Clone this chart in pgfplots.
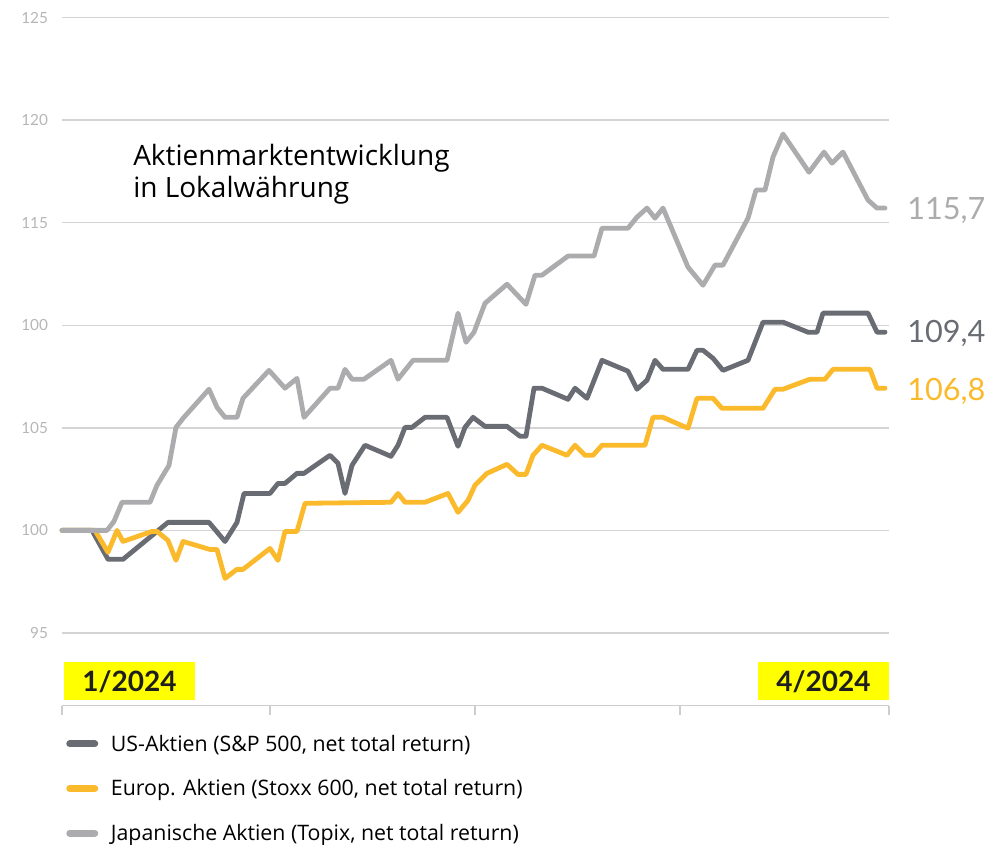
\documentclass[border=0pt]{standalone}
\usepackage{pgfplots}
\pgfplotsset{compat=1.18}
\usepackage{pgfplotstable}
\usepackage{fontspec}
\setmainfont{Lato}
\newfontfamily\textfnt{Open Sans}
\definecolor{usgray}{RGB}{105,108,115}
\definecolor{eugold}{RGB}{251,186,44}
\definecolor{jpgray}{RGB}{172,172,174}
\definecolor{gridgray}{RGB}{212,212,212}
\definecolor{axisgray}{RGB}{205,205,205}
\definecolor{ticklab}{RGB}{182,182,182}
\definecolor{datey}{RGB}{255,255,0}
\definecolor{datetext}{RGB}{30,30,30}

\pgfplotstableread{
x y
0 100.00
30 100.00
46 98.59
61 98.59
106 100.39
147 100.39
163 99.46
175 100.39
182 101.80
208 101.80
216 102.29
223 102.29
235 102.78
242 102.78
268 103.66
276 103.27
283 101.80
290 103.17
303 104.15
329 103.61
336 104.15
343 105.02
350 105.02
363 105.51
385 105.51
396 104.10
403 105.02
411 105.51
423 105.07
445 105.07
458 104.59
464 104.59
472 106.93
480 106.93
506 106.39
513 106.93
525 106.44
540 108.29
566 107.76
575 106.88
585 107.32
593 108.29
601 107.85
626 107.85
635 108.78
641 108.78
651 108.39
661 107.80
686 108.29
701 110.15
721 110.15
746 109.66
755 109.66
761 110.59
806 110.59
815 109.66
823 109.66
}\usdata

\pgfplotstableread{
x y
0 100.00
33 100.00
46 98.93
55 100.00
61 99.46
90 99.95
95 99.95
106 99.51
114 98.54
121 99.46
148 99.07
155 99.07
163 97.66
175 98.10
181 98.10
208 99.12
216 98.54
223 99.95
235 99.95
243 101.32
329 101.37
336 101.80
343 101.37
363 101.37
386 101.80
396 100.88
406 101.46
413 102.20
425 102.78
445 103.22
456 102.73
464 102.73
471 103.66
480 104.15
505 103.66
513 104.15
523 103.66
531 103.66
540 104.15
583 104.15
591 105.51
601 105.51
626 104.98
635 106.44
651 106.44
660 105.95
701 105.95
713 106.88
721 106.88
748 107.37
763 107.37
771 107.85
808 107.85
815 106.93
823 106.93
}\eudata

\pgfplotstableread{
x y
0 100.00
45 100.00
52 100.44
60 101.37
88 101.37
95 102.20
107 103.17
114 105.02
121 105.46
147 106.88
155 106.00
163 105.51
175 105.51
181 106.44
207 107.80
223 106.93
235 107.41
242 105.51
268 106.93
276 106.93
283 107.85
290 107.37
302 107.37
329 108.29
336 107.37
351 108.29
385 108.29
396 110.59
404 109.17
412 109.66
423 111.07
445 112.00
464 111.02
473 112.44
480 112.44
506 113.37
532 113.37
540 114.73
566 114.73
575 115.27
585 115.71
593 115.22
601 115.71
626 112.83
641 111.95
653 112.93
661 112.93
686 115.22
694 116.59
703 116.59
711 118.20
721 119.32
747 117.46
762 118.44
770 117.90
781 118.44
806 116.10
815 115.71
823 115.71
}\jpdata

\begin{document}
\begin{tikzpicture}
\begin{axis}[
  at={(0,0)}, anchor=south west,
  scale only axis, width=620.25pt, height=516pt,
  xmin=0, xmax=827, ymin=91.463, ymax=125,
  clip=false,
  axis x line*=bottom, axis y line*=left,
  y axis line style={draw=none},
  x axis line style={draw=axisgray, line width=1.1pt},
  xtick={0,208,413,618,827}, xticklabels={},
  xtick style={draw=axisgray, line width=1.1pt},
  tick align=outside, major tick length=7pt,
  ytick={95,100,105,110,115,120,125},
  yticklabels={95,100,105,100,115,120,125},
  ytick style={draw=none},
  yticklabel style={font=\fontsize{11.5}{12}\selectfont, text=ticklab},
  ymajorgrids, grid style={draw=gridgray, line width=1.1pt},
  legend style={at={(0,-0.0345)}, anchor=north west, draw=none, fill=none,
    font=\textfnt\fontsize{16}{18}\selectfont, row sep=15.8pt,
    /tikz/every odd column/.append style={column sep=7.5pt}},
  legend cell align=left,
  legend image code/.code={\draw[#1, line width=5.2pt, line cap=round] (2.6pt,0pt) -- (21.4pt,0pt);},
  every axis plot/.append style={line width=3.6pt, line join=round, line cap=round},
]
\addplot[usgray] table[x=x,y=y] {\usdata};
\addlegendentry{US-Aktien (S\&P 500, net total return)}
\addplot[eugold] table[x=x,y=y] {\eudata};
\addlegendentry{Europ. Aktien (Stoxx 600, net total return)}
\addplot[jpgray] table[x=x,y=y] {\jpdata};
\addlegendentry{Japanische Aktien (Topix, net total return)}

\node[anchor=base west, inner sep=0pt, font=\textfnt\fontsize{21}{23}\selectfont, text=black] at (axis cs:71,117.80) {Aktienmarktentwicklung};
\node[anchor=base west, inner sep=0pt, font=\textfnt\fontsize{21}{23}\selectfont, text=black] at (axis cs:71,116.24) {in Lokalwährung};

\node[anchor=west, inner sep=0pt, font=\fontsize{23}{24}\selectfont, text=jpgray] at (axis cs:845,115.61) {115,7};
\node[anchor=west, inner sep=0pt, font=\fontsize{23}{24}\selectfont, text=usgray] at (axis cs:845,109.61) {109,4};
\node[anchor=west, inner sep=0pt, font=\fontsize{23}{24}\selectfont, text=eugold] at (axis cs:845,106.78) {106,8};

\fill[datey] (axis cs:2,91.71) rectangle (axis cs:133,93.56);
\node[inner sep=0pt, font=\bfseries\fontsize{21}{22}\selectfont, text=datetext] at (axis cs:67.5,92.63) {1/2024};
\fill[datey] (axis cs:696,91.71) rectangle (axis cs:827,93.56);
\node[inner sep=0pt, font=\bfseries\fontsize{21}{22}\selectfont, text=datetext] at (axis cs:761.5,92.63) {4/2024};

\coordinate (bbsw) at (axis cs:-62,84.683);
\coordinate (bbne) at (axis cs:945,125.854);
\end{axis}
\pgfresetboundingbox
\path[use as bounding box] (bbsw) rectangle (bbne);
\end{tikzpicture}
\end{document}
